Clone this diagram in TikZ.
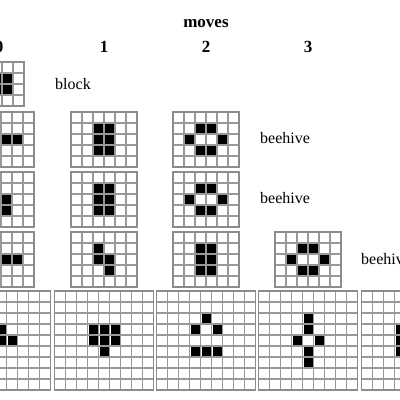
\documentclass[tikz,border=0pt]{standalone}
\usepackage{fontspec}
\setmainfont{Liberation Serif}
\usepackage{tikz}
\usetikzlibrary{positioning}

\tikzset{
  gridline/.style={draw=black!40, line width=1.5pt},
  gridframe/.style={draw=black!45, line width=1.7pt},
  livecell/.style={fill=black},
  head/.style={font=\fontsize{17}{20}\selectfont\bfseries, anchor=base, inner sep=0pt},
  lab/.style={font=\fontsize{16}{19}\selectfont, anchor=base west, inner sep=0pt}
}

% #1 centre x, #2 top y, #3 columns, #4 rows, #5 live cells col/row
\newcommand{\lifegrid}[5]{%
  \pgfmathsetmacro\gx{#1-#3*5.5}
  \foreach \cx/\cy in {#5}
    \fill[livecell] (\gx+\cx*11+1,#2+\cy*11+1) rectangle ++(9,9);
  \foreach \i in {0,...,#3}
    \draw[gridline] (\gx+\i*11,#2) -- ++(0,#4*11);
  \foreach \j in {0,...,#4}
    \draw[gridline] (\gx,#2+\j*11) -- ++(#3*11,0);
  \draw[gridframe] (\gx,#2) rectangle ++(#3*11,#4*11);
}

\begin{document}
\begin{tikzpicture}[x=1pt, y=-1pt]
  \useasboundingbox (0,0) rectangle (400,400);
  \clip (0,0) rectangle (400,400);
  \fill[white] (0,0) rectangle (400,400);

  % header
  \node[head] (moves) at (206,27) {moves};
  \node[head] (m0) at (-1,52) {0};
  \node[head] (m1) at (104,52) {1};
  \node[head] (m2) at (206,52) {2};
  \node[head] (m3) at (308,52) {3};

  % row 1
  \lifegrid{2}{62}{4}{4}{1/1,2/1,1/2,2/2}
  \node[lab] (block) at (55,89) {block};

  % row 2
  \lifegrid{1}{112}{6}{5}{1/2,2/2,3/2,4/2}
  \lifegrid{104}{112}{6}{5}{2/1,3/1,2/2,3/2,2/3,3/3}
  \lifegrid{206}{112}{6}{5}{2/1,3/1,1/2,4/2,2/3,3/3}
  \node[lab] (hive1) at (260,143) {beehive};

  % row 3
  \lifegrid{1}{172}{6}{5}{2/1,3/2,3/3}
  \lifegrid{104}{172}{6}{5}{2/1,3/1,2/2,3/2,2/3,3/3}
  \lifegrid{206}{172}{6}{5}{2/1,3/1,1/2,4/2,2/3,3/3}
  \node[lab] (hive2) at (260,203) {beehive};

  % row 4
  \lifegrid{1}{232}{6}{5}{2/1,3/2,4/2}
  \lifegrid{104}{232}{6}{5}{2/1,2/2,3/2,3/3}
  \lifegrid{206}{232}{6}{5}{2/1,3/1,2/2,3/2,2/3,3/3}
  \lifegrid{308}{232}{6}{5}{2/1,3/1,1/2,4/2,2/3,3/3}
  \node[lab] (hive3) at (361,264) {beehive};

  % row 5
  \lifegrid{1}{291}{9}{9}{4/3,4/4,5/4}
  \lifegrid{104}{291}{9}{9}{3/3,4/3,5/3,3/4,4/4,5/4,4/5}
  \lifegrid{206}{291}{9}{9}{4/2,3/3,5/3,3/5,4/5,5/5}
  \lifegrid{308}{291}{9}{9}{4/2,4/3,3/4,5/4,4/5,4/6}
  \lifegrid{411}{291}{9}{9}{3/3,3/4,3/5}
\end{tikzpicture}
\end{document}
